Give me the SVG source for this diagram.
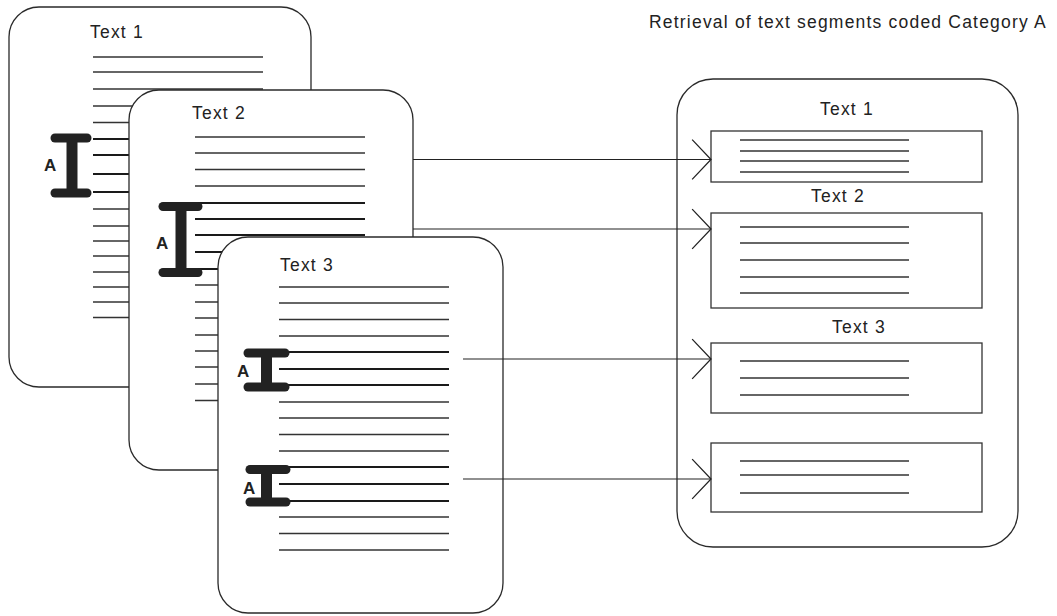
<svg xmlns="http://www.w3.org/2000/svg" width="1057" height="616" viewBox="0 0 1057 616">
<style>
.pg{fill:#fff;stroke:#2a2a2a;stroke-width:1.3}
.ln{stroke:#333;stroke-width:1.3}
.bl{stroke:#1a1a1a;stroke-width:2.2}
.bar{stroke:#222;stroke-width:9;stroke-linecap:round}
.vb{stroke:#222;stroke-width:11}
.t{font-family:"Liberation Sans",Arial,sans-serif;font-size:17.5px;letter-spacing:1.2px;fill:#222}
.a{font-family:"Liberation Sans",Arial,sans-serif;font-size:17px;font-weight:bold;fill:#222}
.box{fill:#fff;stroke:#333;stroke-width:1.3}
.con{stroke:#222;stroke-width:1.2;fill:none}
</style>
<defs>
<marker id="chev" markerUnits="userSpaceOnUse" markerWidth="24" markerHeight="44" viewBox="-20 -21 22 42" refX="0" refY="0" orient="auto">
<path d="M-18,-19 L0,0 L-18,19" fill="none" stroke="#222" stroke-width="1.2"/>
</marker>
</defs>
<rect width="1057" height="616" fill="#fff"/>
<text class="t" x="649" y="28">Retrieval of text segments coded Category A</text>

<g id="page1">
<rect class="pg" x="9" y="7" width="302" height="380" rx="30"/>
<text class="t" x="90" y="38">Text 1</text>
<g class="ln">
<line x1="93" y1="57" x2="263" y2="57"/><line x1="93" y1="72" x2="263" y2="72"/>
<line x1="93" y1="89" x2="263" y2="89"/><line x1="93" y1="106" x2="263" y2="106"/>
<line x1="93" y1="122.5" x2="263" y2="122.5"/>
<line x1="93" y1="209" x2="263" y2="209"/><line x1="93" y1="226" x2="263" y2="226"/>
<line x1="93" y1="241" x2="263" y2="241"/><line x1="93" y1="256" x2="263" y2="256"/>
<line x1="93" y1="272" x2="263" y2="272"/><line x1="93" y1="287" x2="263" y2="287"/>
<line x1="93" y1="302" x2="263" y2="302"/><line x1="93" y1="317.5" x2="263" y2="317.5"/>
</g>
<g class="bl">
<line x1="93" y1="139" x2="263" y2="139"/><line x1="93" y1="155" x2="263" y2="155"/>
<line x1="93" y1="174" x2="263" y2="174"/><line x1="93" y1="192" x2="263" y2="192"/>
</g>
<line class="bar" x1="55" y1="138" x2="87" y2="138"/>
<line class="bar" x1="55" y1="193" x2="87" y2="193"/>
<line class="vb" x1="72" y1="138" x2="72" y2="193"/>
<text class="a" x="44" y="171">A</text>
</g>

<g id="page2">
<rect class="pg" x="129" y="90" width="284" height="380" rx="30"/>
<text class="t" x="192" y="119">Text 2</text>
<g class="ln">
<line x1="195" y1="137" x2="365" y2="137"/><line x1="195" y1="153" x2="365" y2="153"/>
<line x1="195" y1="169.5" x2="365" y2="169.5"/><line x1="195" y1="186" x2="365" y2="186"/>
<line x1="195" y1="285" x2="365" y2="285"/><line x1="195" y1="302" x2="365" y2="302"/>
<line x1="195" y1="318" x2="365" y2="318"/><line x1="195" y1="335" x2="365" y2="335"/>
<line x1="195" y1="351" x2="365" y2="351"/><line x1="195" y1="367" x2="365" y2="367"/>
<line x1="195" y1="384" x2="365" y2="384"/><line x1="195" y1="400.5" x2="365" y2="400.5"/>
</g>
<g class="bl">
<line x1="195" y1="203" x2="365" y2="203"/><line x1="195" y1="219" x2="365" y2="219"/>
<line x1="195" y1="235" x2="365" y2="235"/><line x1="195" y1="252" x2="365" y2="252"/>
<line x1="195" y1="269" x2="365" y2="269"/>
</g>
<line class="bar" x1="163" y1="206.5" x2="198" y2="206.5"/>
<line class="bar" x1="163" y1="272.5" x2="198" y2="272.5"/>
<line class="vb" x1="181" y1="206" x2="181" y2="273"/>
<text class="a" x="156" y="249">A</text>
</g>

<g id="page3">
<rect class="pg" x="218" y="237" width="285" height="376" rx="30"/>
<text class="t" x="280" y="271">Text 3</text>
<g class="ln">
<line x1="279" y1="287" x2="449" y2="287"/><line x1="279" y1="303" x2="449" y2="303"/>
<line x1="279" y1="319.5" x2="449" y2="319.5"/><line x1="279" y1="336" x2="449" y2="336"/>
<line x1="279" y1="402" x2="449" y2="402"/><line x1="279" y1="418" x2="449" y2="418"/>
<line x1="279" y1="434.5" x2="449" y2="434.5"/><line x1="279" y1="451" x2="449" y2="451"/>
<line x1="279" y1="517" x2="449" y2="517"/><line x1="279" y1="533.5" x2="449" y2="533.5"/>
<line x1="279" y1="550" x2="449" y2="550"/>
</g>
<g class="bl">
<line x1="279" y1="352" x2="449" y2="352"/><line x1="279" y1="369" x2="449" y2="369"/>
<line x1="279" y1="385" x2="449" y2="385"/>
<line x1="279" y1="467" x2="449" y2="467"/><line x1="279" y1="484" x2="449" y2="484"/>
<line x1="279" y1="501" x2="449" y2="501"/>
</g>
<line class="bar" x1="248" y1="353" x2="285" y2="353"/>
<line class="bar" x1="248" y1="387" x2="285" y2="387"/>
<line class="vb" x1="266.5" y1="353" x2="266.5" y2="387"/>
<text class="a" x="237" y="377">A</text>
<line class="bar" x1="250" y1="469.5" x2="286" y2="469.5"/>
<line class="bar" x1="250" y1="502" x2="286" y2="502"/>
<line class="vb" x1="266.5" y1="469" x2="266.5" y2="502"/>
<text class="a" x="243" y="494">A</text>
</g>

<g id="retrieval">
<rect class="pg" x="677" y="79" width="341" height="468" rx="36"/>
<text class="t" x="820" y="115">Text 1</text>
<rect class="box" x="711" y="131" width="271" height="51"/>
<g class="ln">
<line x1="740" y1="140" x2="909" y2="140"/><line x1="740" y1="151" x2="909" y2="151"/>
<line x1="740" y1="161" x2="909" y2="161"/><line x1="740" y1="172" x2="909" y2="172"/>
</g>
<text class="t" x="811" y="202">Text 2</text>
<rect class="box" x="711" y="213" width="271" height="95"/>
<g class="ln">
<line x1="740" y1="227" x2="909" y2="227"/><line x1="740" y1="243" x2="909" y2="243"/>
<line x1="740" y1="260" x2="909" y2="260"/><line x1="740" y1="277" x2="909" y2="277"/>
<line x1="740" y1="293" x2="909" y2="293"/>
</g>
<text class="t" x="832" y="333">Text 3</text>
<rect class="box" x="711" y="343" width="271" height="70"/>
<g class="ln">
<line x1="740" y1="361" x2="909" y2="361"/><line x1="740" y1="378" x2="909" y2="378"/>
<line x1="740" y1="395" x2="909" y2="395"/>
</g>
<rect class="box" x="711" y="443" width="271" height="69"/>
<g class="ln">
<line x1="740" y1="461" x2="909" y2="461"/><line x1="740" y1="475" x2="909" y2="475"/>
<line x1="740" y1="493" x2="909" y2="493"/>
</g>
</g>

<g id="connectors">
<line class="con" x1="413" y1="159.5" x2="711" y2="159.5" marker-end="url(#chev)"/>
<line class="con" x1="413" y1="229" x2="711" y2="229" marker-end="url(#chev)"/>
<line class="con" x1="463" y1="359" x2="711" y2="359" marker-end="url(#chev)"/>
<line class="con" x1="463" y1="479" x2="711" y2="479" marker-end="url(#chev)"/>
</g>
</svg>
